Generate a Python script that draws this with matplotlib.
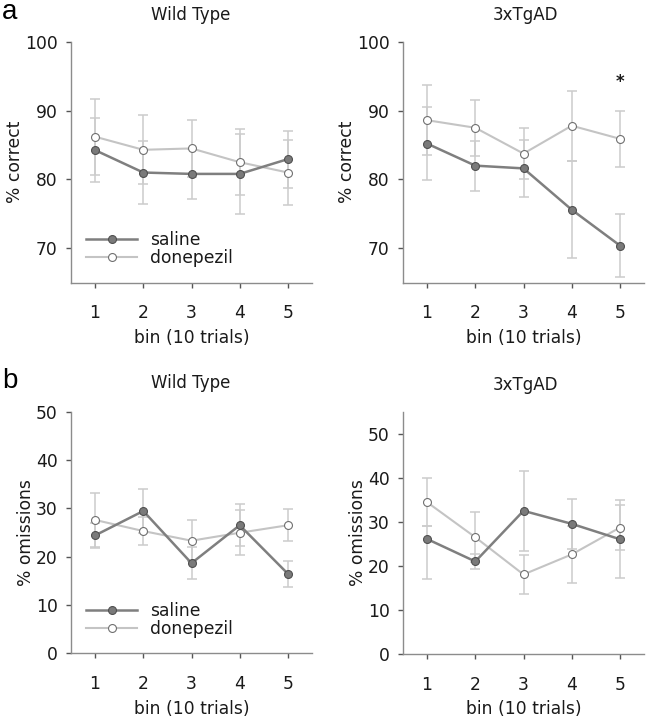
import matplotlib
matplotlib.use("Agg")
import matplotlib.pyplot as plt
import numpy as np

plt.rcParams['font.family'] = ['DejaVu Sans']

bins = [1, 2, 3, 4, 5]
bin_labels = ['1', '2', '3', '4', '5']

# Panel a: % correct
wt_correct_saline = [84.25, 81.0, 80.8, 80.8, 82.95]
wt_correct_saline_err = [4.65, 4.6, 3.6, 5.8, 4.15]
wt_correct_donep = [86.2, 84.3, 84.5, 82.5, 81.0]
wt_correct_donep_err = [5.5, 5.0, 4.1, 4.75, 4.75]

tg_correct_saline = [85.2, 82.0, 81.6, 75.6, 70.4]
tg_correct_saline_err = [5.3, 3.65, 4.15, 7.05, 4.6]
tg_correct_donep = [88.6, 87.5, 83.75, 87.8, 85.9]
tg_correct_donep_err = [5.1, 4.05, 3.65, 5.1, 4.05]

# Panel b: % omissions
wt_omis_saline = [24.4, 29.45, 18.65, 26.5, 16.45]
wt_omis_saline_err = [2.6, 4.5, 3.35, 4.3, 2.7]
wt_omis_donep = [27.6, 25.3, 23.3, 24.95, 26.5]
wt_omis_donep_err = [5.5, 2.9, 4.2, 4.65, 3.3]

tg_omis_saline = [26.1, 21.0, 32.5, 29.55, 26.05]
tg_omis_saline_err_lo = [9.1, 1.65, 9.1, 5.65, 8.9]
tg_omis_saline_err_hi = [2.9, 1.65, 9.1, 5.65, 8.9]
tg_omis_donep = [34.45, 26.5, 18.05, 22.6, 28.7]
tg_omis_donep_err = [5.4, 5.7, 4.45, 6.45, 5.2]

W, H = 649, 719
fig = plt.figure(figsize=(W / 100, H / 100), dpi=100)

def axrect(left, right, top, bottom):
    return [left / W, 1 - bottom / H, (right - left) / W, (bottom - top) / H]

SAL_LINE = '#7f7f7f'
SAL_FACE = '#7a7a7a'
SAL_EDGE = '#505050'
DON_LINE = '#c4c4c4'
DON_EDGE = '#707070'
ERR = '#cccccc'
SPINE = '#8c8c8c'
TXT = '#1a1a1a'
FS = 12.3

def draw(ax, sal, sal_err, don, don_err, ylim, yticks, ylabel):
    ax.errorbar(bins, don, yerr=don_err, fmt='none', ecolor=ERR, elinewidth=1.1,
                capsize=3.5, capthick=1.1, zorder=1)
    ax.errorbar(bins, sal, yerr=sal_err, fmt='none', ecolor=ERR, elinewidth=1.1,
                capsize=3.5, capthick=1.1, zorder=1)
    ax.plot(bins, sal, '-o', color=SAL_LINE, lw=1.8, ms=5.7, mfc=SAL_FACE,
            mec=SAL_EDGE, mew=0.8, zorder=3, label='saline')
    ax.plot(bins, don, '-o', color=DON_LINE, lw=1.5, ms=5.7, mfc='white',
            mec=DON_EDGE, mew=0.8, zorder=2, label='donepezil')
    ax.set_xlim(0.5, 5.5)
    ax.set_ylim(*ylim)
    ax.set_yticks(yticks)
    ax.set_xticks(bins)
    ax.set_xticklabels(bin_labels)
    for s in ['top', 'right']:
        ax.spines[s].set_visible(False)
    for s in ['left', 'bottom']:
        ax.spines[s].set_color(SPINE)
        ax.spines[s].set_linewidth(1.0)
    ax.tick_params(axis='y', length=3.5, width=1, color='#555555', labelsize=FS,
                   labelcolor=TXT, pad=6)
    ax.tick_params(axis='x', length=3.5, width=1, color='#555555', labelsize=FS,
                   labelcolor=TXT, pad=12)
    ax.set_ylabel(ylabel, fontsize=FS, color=TXT, labelpad=0.5)
    ax.set_xlabel('bin (10 trials)', fontsize=FS, color=TXT, labelpad=5)
    return ax

# Panel a
ax1 = fig.add_axes(axrect(71, 312, 41.7, 282.7))
draw(ax1, wt_correct_saline, wt_correct_saline_err, wt_correct_donep, wt_correct_donep_err,
     (65, 100), [70, 80, 90, 100], '% correct')
ax2 = fig.add_axes(axrect(403, 644, 41.7, 282.7))
draw(ax2, tg_correct_saline, tg_correct_saline_err, tg_correct_donep, tg_correct_donep_err,
     (65, 100), [70, 80, 90, 100], '% correct')
ax2.text(5, 94.2, '*', ha='center', va='center', fontsize=12, fontweight='bold', color=TXT)

# Panel b
ax3 = fig.add_axes(axrect(71, 312, 411.7, 653.3))
draw(ax3, wt_omis_saline, wt_omis_saline_err, wt_omis_donep, wt_omis_donep_err,
     (0, 50), [0, 10, 20, 30, 40, 50], '% omissions')
ax4 = fig.add_axes(axrect(403, 644, 411.7, 654))
draw(ax4, tg_omis_saline, [tg_omis_saline_err_lo, tg_omis_saline_err_hi],
     tg_omis_donep, tg_omis_donep_err,
     (0, 55), [0, 10, 20, 30, 40, 50], '% omissions')

# Titles
fig.text(191 / W, 1 - 15 / H, 'Wild Type', ha='center', va='center', fontsize=12, color=TXT)
fig.text(525 / W, 1 - 15 / H, '3xTgAD', ha='center', va='center', fontsize=12, color=TXT)
fig.text(191 / W, 1 - 383 / H, 'Wild Type', ha='center', va='center', fontsize=12, color=TXT)
fig.text(525 / W, 1 - 385 / H, '3xTgAD', ha='center', va='center', fontsize=12, color=TXT)

# Panel letters
fig.text(2 / W, 1 - 12 / H, 'a', ha='left', va='center', fontsize=20,
         family=['Liberation Sans', 'DejaVu Sans'], color='black')
fig.text(2 / W, 1 - 381 / H, 'b', ha='left', va='center', fontsize=20,
         family=['Liberation Sans', 'DejaVu Sans'], color='black')

# Legends
for ax, yc in ((ax1, 0.14), (ax3, 0.138)):
    leg = ax.legend(loc='center left', bbox_to_anchor=(0.062, yc), frameon=False,
                    fontsize=FS, handlelength=3.0, handletextpad=0.75,
                    labelspacing=-0.05, borderaxespad=0.0, borderpad=0.0)
    for t in leg.get_texts():
        t.set_color(TXT)

fig.savefig('out.png', dpi=100, facecolor='white')
